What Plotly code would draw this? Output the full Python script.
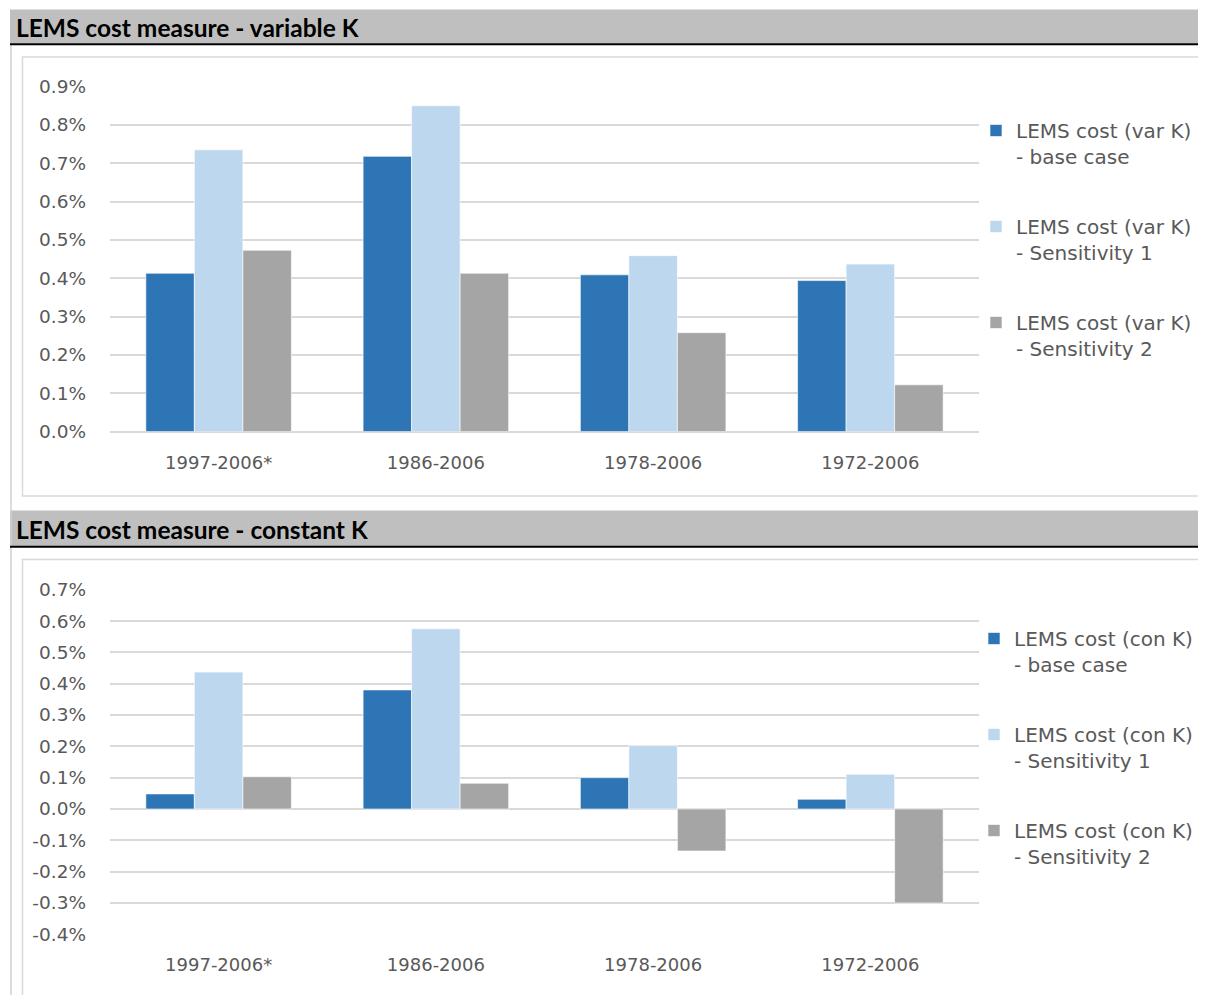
import plotly.graph_objects as go

W, H = 1206, 995
OFF = 8  # page offset of the plot div

categories = ["1997-2006*", "1986-2006", "1978-2006", "1972-2006"]

# Variable K (percent)
var_base = [0.413, 0.718, 0.409, 0.394]
var_sens1 = [0.735, 0.850, 0.459, 0.437]
var_sens2 = [0.473, 0.413, 0.258, 0.122]

# Constant K (percent)
con_base = [0.048, 0.380, 0.100, 0.031]
con_sens1 = [0.437, 0.575, 0.202, 0.111]
con_sens2 = [0.103, 0.082, -0.134, -0.300]

var_names = ["LEMS cost (var K)<br>- base case",
             "LEMS cost (var K)<br>- Sensitivity 1",
             "LEMS cost (var K)<br>- Sensitivity 2"]
con_names = ["LEMS cost (con K)<br>- base case",
             "LEMS cost (con K)<br>- Sensitivity 1",
             "LEMS cost (con K)<br>- Sensitivity 2"]

top_ticks = [0.0, 0.1, 0.2, 0.3, 0.4, 0.5, 0.6, 0.7, 0.8, 0.9]
top_ticktext = ["0.0%", "0.1%", "0.2%", "0.3%", "0.4%", "0.5%", "0.6%", "0.7%", "0.8%", "0.9%"]
bot_ticks = [-0.4, -0.3, -0.2, -0.1, 0.0, 0.1, 0.2, 0.3, 0.4, 0.5, 0.6, 0.7]
bot_ticktext = ["-0.4%", "-0.3%", "-0.2%", "-0.1%", "0.0%", "0.1%", "0.2%",
                "0.3%", "0.4%", "0.5%", "0.6%", "0.7%"]

titles = ["LEMS cost measure - variable K", "LEMS cost measure - constant K"]

colors = ["#2E75B6", "#BDD7EE", "#A5A5A5"]

FONT = "DejaVu Sans"
TXT = "#595959"
GRID = "#D9D9D9"


def px(x):
    return (x - OFF) / W


def py(y):
    return 1 - (y - OFF) / H


fig = go.Figure()

for i, (vals, name) in enumerate(zip([var_base, var_sens1, var_sens2], var_names)):
    fig.add_trace(go.Bar(x=categories, y=vals, name=name, marker_color=colors[i],
                         marker_line=dict(color="rgba(255,255,255,0.6)", width=1),
                         xaxis="x", yaxis="y", legend="legend", legendgroup="v%d" % i))
for i, (vals, name) in enumerate(zip([con_base, con_sens1, con_sens2], con_names)):
    fig.add_trace(go.Bar(x=categories, y=vals, name=name, marker_color=colors[i],
                         marker_line=dict(color="rgba(255,255,255,0.6)", width=1),
                         xaxis="x2", yaxis="y2", legend="legend2", legendgroup="c%d" % i))

xdom = [px(110), px(979)]
ytick_font = dict(family=FONT, size=18.5, color=TXT)
xtick_font = dict(family=FONT, size=18, color=TXT)
leg_font = dict(family=FONT, size=20, color=TXT)

fig.update_layout(
    width=W, height=H, autosize=False,
    margin=dict(l=0, r=0, t=0, b=0, autoexpand=False),
    paper_bgcolor="white", plot_bgcolor="white",
    barmode="group", bargap=0.33, bargroupgap=0,
    font=dict(family=FONT, color=TXT),
    xaxis=dict(domain=xdom, anchor="y", showgrid=False, showline=False, zeroline=False,
               ticks="", tickfont=xtick_font, ticklabelstandoff=18),
    yaxis=dict(domain=[py(431.6), py(86.6)], anchor="x", range=[0, 0.9],
               tickvals=top_ticks, ticktext=top_ticktext, tickfont=ytick_font,
               showgrid=True, gridcolor=GRID, gridwidth=1.5, zeroline=True,
               zerolinecolor=GRID, zerolinewidth=1.5, showline=False,
               ticks="", ticklabelstandoff=23),
    xaxis2=dict(domain=xdom, anchor="y2", showgrid=False, showline=False, zeroline=False,
                ticks="", tickfont=xtick_font, ticklabelstandoff=18),
    yaxis2=dict(domain=[py(934.3), py(589.7)], anchor="x2", range=[-0.4, 0.7],
                tickvals=bot_ticks, ticktext=bot_ticktext, tickfont=ytick_font,
                showgrid=True, gridcolor=GRID, gridwidth=1.5, zeroline=True,
                zerolinecolor=GRID, zerolinewidth=1.5, showline=False,
                ticks="", ticklabelstandoff=23),
    legend=dict(x=px(976), y=py(111), xanchor="left", yanchor="top",
                font=leg_font, valign="top",
                traceorder="grouped", tracegroupgap=41, itemwidth=30,
                bgcolor="rgba(0,0,0,0)"),
    legend2=dict(x=px(974), y=py(619), xanchor="left", yanchor="top",
                 font=leg_font, valign="top",
                 traceorder="grouped", tracegroupgap=41, itemwidth=30,
                 bgcolor="rgba(0,0,0,0)"),
)

shapes = []
# outer left border line
shapes.append(dict(type="line", xref="paper", yref="paper", x0=px(11), x1=px(11),
                   y0=py(44), y1=py(1000), line=dict(color="#D0D0D0", width=1.5)))
# chart boxes
shapes.append(dict(type="rect", xref="paper", yref="paper", x0=px(22.5), x1=px(1201.5),
                   y0=py(496), y1=py(57), line=dict(color="#D9D9D9", width=1.5),
                   layer="below"))
shapes.append(dict(type="rect", xref="paper", yref="paper", x0=px(22.5), x1=px(1201.5),
                   y0=py(1010), y1=py(559.5), line=dict(color="#D9D9D9", width=1.5),
                   layer="below"))
# header bars
for top, bot in [(9.5, 43.5), (510.5, 546)]:
    shapes.append(dict(type="rect", xref="paper", yref="paper", x0=px(10), x1=px(1220),
                       y0=py(bot), y1=py(top), fillcolor="#BFBFBF", line=dict(width=0),
                       layer="below"))
    shapes.append(dict(type="line", xref="paper", yref="paper", x0=px(10), x1=px(1220),
                       y0=py(bot + 0.8), y1=py(bot + 0.8), line=dict(color="#000000", width=2)))
fig.update_layout(shapes=shapes)

for title, ymid in zip(titles, [27.5, 529.5]):
    fig.add_annotation(text="<b>%s</b>" % title, xref="paper", yref="paper",
                       x=px(14), y=py(ymid), xanchor="left", yanchor="middle",
                       showarrow=False, font=dict(family="Lato", size=24.5, color="#000000"))

fig.write_html("out.html")
